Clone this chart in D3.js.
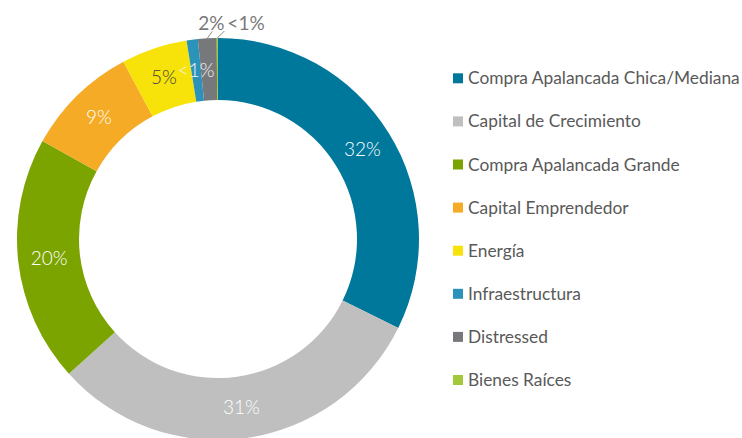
<!DOCTYPE html>
<html><head><meta charset="utf-8">
<script src="https://cdn.jsdelivr.net/npm/d3@7"></script>
<style>
html,body{margin:0;padding:0;background:#fff;}
svg text{font-family:Lato,"Open Sans",sans-serif;}
</style></head>
<body><svg id="chart" width="742" height="438"></svg>
<script>
const categories = ["Compra Apalancada Chica/Mediana","Capital de Crecimiento","Compra Apalancada Grande","Capital Emprendedor","Energía","Infraestructura","Distressed","Bienes Raíces"];
const values = [32.3, 31.0, 19.8, 9.1, 5.3, 0.9, 1.5, 0.1];
const labels = ["32%","31%","20%","9%","5%","<1%","2%","<1%"];
const colors = ["#00789b","#bebfbe","#7ba400","#f5ab25","#f7e30a","#2b92b9","#77787b","#a3c93a"];
const labelColors = ["#ffffff","#ffffff","#ffffff","#ffffff","#404040","#f2f2f2","#7a7a7a","#7a7a7a"];
const outside = [false,false,false,false,false,false,true,true];

const svg = d3.select("#chart");
const cx = 218, cy = 239, rOuter = 201, rInner = 139;
const g = svg.append("g").attr("transform",`translate(${cx},${cy})`);

const data = categories.map((c,i)=>({cat:c, value:values[i], label:labels[i], color:colors[i], lc:labelColors[i], out:outside[i]}));
const pie = d3.pie().value(d=>d.value).sort(null);
const arc = d3.arc().innerRadius(rInner).outerRadius(rOuter);
const arcs = pie(data);

g.selectAll("path.slice").data(arcs).join("path")
  .attr("class","slice").attr("d",arc).attr("fill",d=>d.data.color);

const inside = arcs.filter(d=>!d.data.out);
g.selectAll("text.in").data(inside).join("text")
  .attr("class","in")
  .attr("transform",d=>`translate(${arc.centroid(d)})`)
  .attr("text-anchor","middle").attr("dy","0.35em")
  .attr("font-size",19).attr("font-weight",300).attr("fill",d=>d.data.lc)
  .text(d=>d.data.label);

// outside labels with leader lines
const outArcs = arcs.filter(d=>d.data.out);
const leadOff = [[5,-7],[7,-7]];
const anchors = ["middle","start"];
const textShift = [[-1,-1],[3,-1]];
outArcs.forEach((d,i)=>{
  const a = (d.startAngle+d.endAngle)/2;
  const p0 = [Math.sin(a)*rOuter, -Math.cos(a)*rOuter];
  const p1 = [p0[0]+leadOff[i][0], p0[1]+leadOff[i][1]];
  g.append("line").attr("x1",p0[0]).attr("y1",p0[1]).attr("x2",p1[0]).attr("y2",p1[1])
    .attr("stroke","#8c8c8c").attr("stroke-width",1);
  g.append("text").attr("x",p1[0]+textShift[i][0]).attr("y",p1[1]+textShift[i][1])
    .attr("text-anchor",anchors[i]).attr("font-size",19).attr("fill",d.data.lc)
    .text(d.data.label);
});

// legend
const ly = d3.scalePoint().domain(categories).range([78.3,380]);
const leg = svg.append("g");
const items = leg.selectAll("g").data(data).join("g")
  .attr("transform",d=>`translate(453,${ly(d.cat)})`);
items.append("rect").attr("x",0).attr("y",-5).attr("width",10).attr("height",10).attr("fill",d=>d.color);
const lt = items.append("text").attr("x",15).attr("dy","0.35em")
  .attr("font-size",17).attr("fill","#595959").text(d=>d.cat);
const w = lt.nodes()[0].getComputedTextLength();
lt.attr("font-size",17*272/w);
</script></body></html>
